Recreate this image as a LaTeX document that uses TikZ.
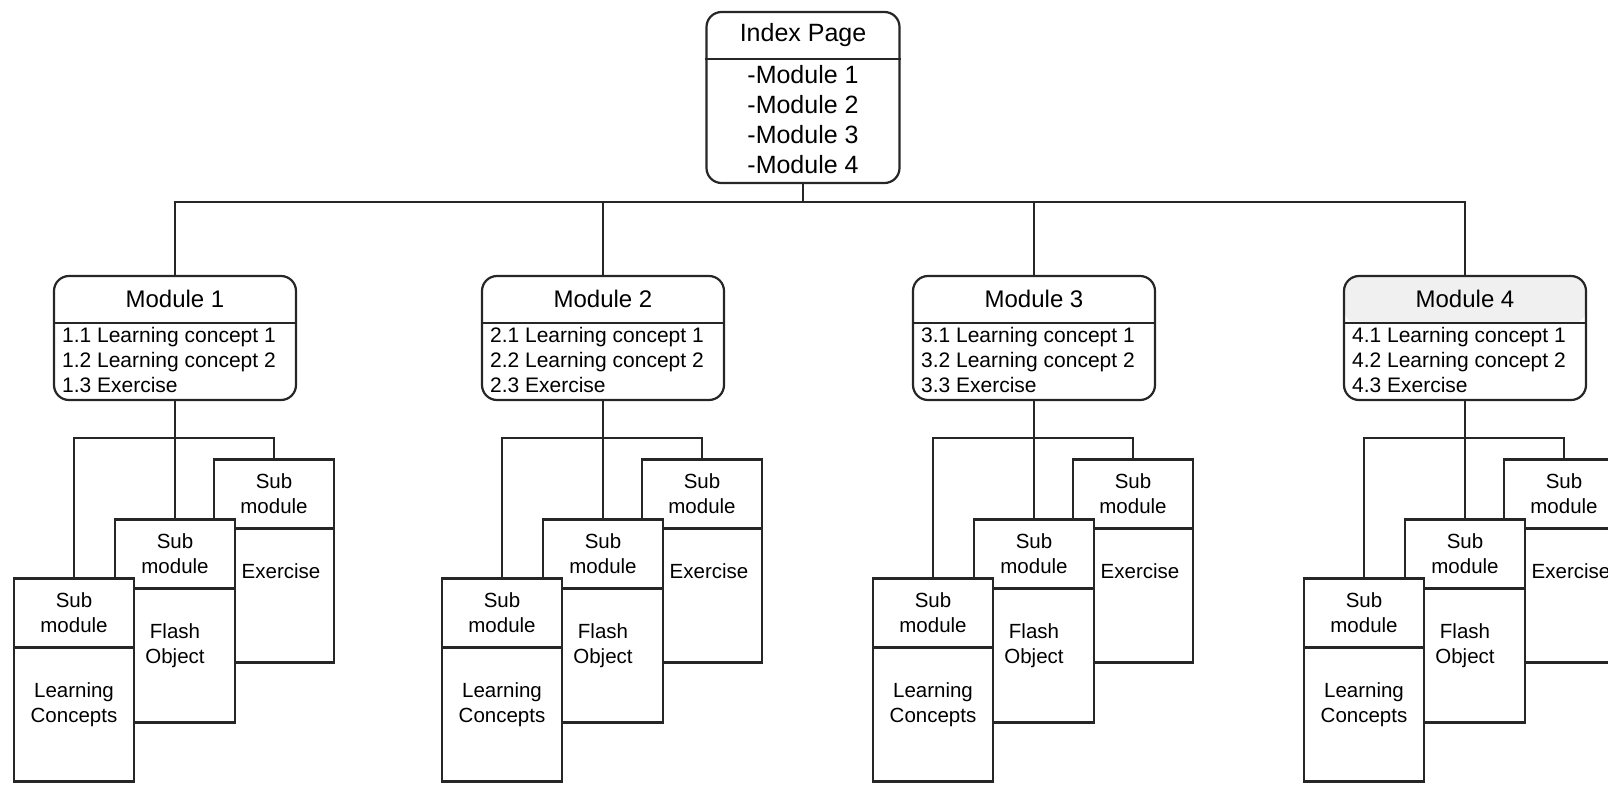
\documentclass[tikz,border=0pt]{standalone}
\usepackage{fontspec}
\setmainfont{Liberation Sans}

\tikzset{
  linecol/.style={draw=black!85, line width=2.2pt},
  pagebox/.style={linecol, rounded corners=15pt, minimum width=193pt, minimum height=171pt, inner sep=0pt},
  modbox/.style={linecol, rounded corners=15pt, minimum width=242pt, minimum height=124pt, inner sep=0pt},
  mod4/.style={path picture={\fill[gray!12] (path picture bounding box.north west) rectangle ([yshift=-48pt]path picture bounding box.north east);}},
  subbox/.style={linecol, fill=white, minimum width=120pt, minimum height=203pt, inner sep=0pt},
  bigtext/.style={font=\fontsize{25}{30}\selectfont, inner sep=0pt, align=center},
  headtext/.style={font=\fontsize{24}{28}\selectfont, inner sep=0pt},
  itemtext/.style={font=\fontsize{21}{25}\selectfont, inner sep=0pt, align=left},
  subtext/.style={font=\fontsize{20.5}{25}\selectfont, inner sep=0pt, align=center},
}

\begin{document}
\begin{tikzpicture}[x=1pt, y=-1pt]
  \useasboundingbox (0,0) rectangle (1608,784);

  % index page
  \node[pagebox] (idx) at (803,97.5) {};
  \draw[linecol] ([yshift=-48pt]idx.north west) -- ([yshift=-48pt]idx.north east);
  \node[bigtext] (idxt) at ([yshift=-24pt]idx.north) {Index Page};
  \node[bigtext, anchor=north] (idxl) at ([yshift=-54pt]idx.north) {-Module 1\\-Module 2\\-Module 3\\-Module 4};
  \coordinate (bus) at (803,202);
  \draw[linecol] (idx.south) -- (bus);

  \foreach \i/\c in {1/175,2/603,3/1034,4/1465}{
    % module
    \node[modbox, mod\i/.try] (m\i) at (\c,338) {};
    \draw[linecol] ([yshift=-48pt]m\i.north west) -- ([yshift=-48pt]m\i.north east);
    \node[headtext] (mt\i) at ([yshift=-24pt]m\i.north) {Module \i};
    \node[itemtext, anchor=north west] (ml\i) at ([shift={(9pt,-52pt)}]m\i.north west)
      {\i.1 Learning concept 1\\\i.2 Learning concept 2\\\i.3 Exercise};
    \draw[linecol] (bus) -| (m\i.north);

    % sub modules, back to front
    \node[subbox] (ex\i) at (\c+99,561) {};
    \draw[linecol] ([yshift=-70pt]ex\i.north west) -- ([yshift=-70pt]ex\i.north east);
    \node[subtext] at ([yshift=-35pt]ex\i.north) {Sub\\module};
    \node[subtext, anchor=north] at ([shift={(7pt,-105pt)}]ex\i.north) {Exercise};

    \node[subbox] (fo\i) at (\c,621) {};
    \draw[linecol] ([yshift=-70pt]fo\i.north west) -- ([yshift=-70pt]fo\i.north east);
    \node[subtext] at ([yshift=-35pt]fo\i.north) {Sub\\module};
    \node[subtext, anchor=north] at ([yshift=-105pt]fo\i.north) {Flash\\Object};

    \node[subbox] (lc\i) at (\c-101,680) {};
    \draw[linecol] ([yshift=-70pt]lc\i.north west) -- ([yshift=-70pt]lc\i.north east);
    \node[subtext] at ([yshift=-35pt]lc\i.north) {Sub\\module};
    \node[subtext, anchor=north] at ([yshift=-105pt]lc\i.north) {Learning\\Concepts};

    \coordinate (j\i) at (\c,438);
    \draw[linecol] (m\i.south) -- (j\i);
    \draw[linecol] (j\i) -| (lc\i.north);
    \draw[linecol] (j\i) -- (fo\i.north);
    \draw[linecol] (j\i) -| (ex\i.north);
  }
\end{tikzpicture}
\end{document}
